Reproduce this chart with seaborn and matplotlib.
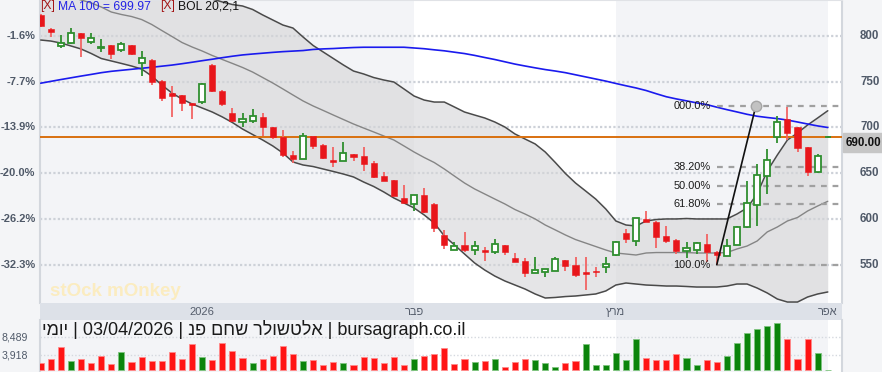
import numpy as np
import pandas as pd
import matplotlib
matplotlib.use("Agg")
import matplotlib.pyplot as plt
import matplotlib.transforms as mtrans
from matplotlib.patches import Rectangle
import seaborn as sns

sns.set_style("white")
plt.rcParams['font.family'] = ['Liberation Sans', 'DejaVu Sans']

# ---------------- data ----------------
opens = [823, 807.7, 789, 792, 803, 793, 786.6, 790, 784.7, 790,
         770, 773.8, 750.8, 737.4, 735.5, 726.4, 728.2, 768.3, 740.2, 715.5,
         706.3, 707.4, 711.8, 700.2, 690, 670, 665.9, 690.7, 680.9, 664.6,
         663.4, 671, 668.8, 661.5, 647, 642.6, 623.3, 616, 626.2, 616.4,
         582.5, 566.1, 571.5, 566.1, 566.1, 563.6, 571.5, 557, 554.2, 541.3,
         542.4, 543.1, 555.1, 549.7, 542.4, 543.1, 547.8, 560.6, 585, 576.2,
         599.6, 597, 581.7, 577, 564.9, 566.1, 572.7, 564.3, 559.9, 571.5,
         591.5, 615.3, 646.9, 689.3, 709.3, 700.2, 678.3, 651, 689.2]
highs = [824, 808.5, 801, 808.4, 803.5, 803, 796.4, 790.5, 793.8, 790.5,
         783.6, 775, 751.5, 745.3, 736, 727, 749, 769, 741, 721,
         715.5, 719.9, 715.5, 701, 697.2, 674.6, 693.6, 691, 681.5, 679,
         683.8, 671.5, 679, 663.4, 651.7, 643, 637.1, 626.5, 633.5, 617,
         587.9, 575.2, 585.4, 576, 569.7, 577.9, 572, 562.5, 557, 558.7,
         545.3, 558.7, 555.5, 558.7, 558.7, 547.8, 558.7, 576, 588.6, 601,
         608.7, 597.5, 592.6, 578, 574.5, 574.5, 583.2, 565, 578, 592.6,
         641.5, 660.1, 676.5, 712.6, 722.7, 700.8, 679, 671, 690.5]
lows = [810, 798.6, 786.5, 791, 776.7, 791, 782.8, 774.5, 782.8, 779.5,
        756.3, 746.4, 729, 711.1, 718.4, 709, 726, 739, 724, 706.5,
        700, 705, 690.7, 687.8, 667.4, 661.5, 665.5, 676.5, 665.5, 657,
        663, 663.7, 652.8, 645, 641.5, 625, 617.5, 609, 607, 586.1,
        567.2, 565.8, 564, 560.6, 554, 561.4, 560.6, 553, 536.9, 540.6,
        536.9, 543, 543.5, 536.9, 522.4, 536.9, 541.3, 559.5, 574, 570.8,
        596.5, 568.6, 573.3, 561.4, 557.7, 561.4, 553.3, 550, 559.5, 571,
        590.5, 592.6, 627, 682.7, 686.3, 673.5, 647.3, 650.5, 688.8]
closes = [811, 804, 792.7, 803.6, 798, 797.5, 788.3, 780, 791, 780,
          775.6, 750, 731.9, 734.7, 726.4, 724.6, 747.2, 739.9, 725.7, 707.4,
          709, 712.6, 700.2, 689.3, 670, 665.9, 691, 680.1, 666.3, 662.6,
          671.8, 668, 659.8, 646.2, 641.8, 625.4, 617.8, 626.2, 607.3, 589.8,
          571.5, 570.8, 566.1, 570.8, 564.2, 572.3, 564.2, 553.3, 541.3, 544.2,
          545.3, 555.9, 548.9, 538.8, 539.5, 542, 550.4, 575.2, 577.8, 600.7,
          597, 580.6, 575.8, 565.3, 567.9, 573.4, 564.3, 560.6, 570.8, 591.5,
          617, 648.1, 664.5, 706.3, 693.6, 677.9, 651, 668.8, 690]
volumes = [1782, 2892, 6068, 2453, 2892, 1937, 3744, 1523, 4777, 2195,
           3486, 2453, 2453, 4777, 2892, 6842, 3408, 2634, 7101, 5035,
           3228, 1937, 2892, 3744, 6326, 4105, 2453, 2634, 1343, 2195,
           1937, 1343, 3331, 3228, 1937, 3331, 1343, 2892, 3744, 4105,
           5810, 1523, 2892, 2195, 2453, 2892, 904, 2195, 2892, 2634,
           1937, 904, 1782, 2453, 6687, 1343, 1343, 4519, 2634, 8056,
           3228, 2634, 2634, 4183, 3228, 1343, 2634, 2195, 3744, 7101,
           9683, 10638, 11490, 12265, 8056, 2892, 8056, 4364, 120]
vol_up = [0, 0, 0, 1, 0, 0, 0, 0, 1, 0,
          0, 0, 0, 0, 0, 0, 1, 0, 0, 0,
          0, 1, 0, 0, 0, 0, 1, 0, 0, 0,
          1, 0, 0, 0, 0, 0, 0, 1, 0, 0,
          0, 0, 0, 1, 0, 1, 0, 0, 0, 1,
          1, 1, 0, 0, 1, 1, 1, 1, 1, 1,
          0, 0, 0, 0, 1, 1, 0, 0, 1, 1,
          1, 1, 1, 1, 0, 0, 0, 1, 1]
ma100 = [748.4, 750.4, 752.4, 754.3, 756.2, 758.0, 759.9, 761.4, 762.5, 763.6,
         764.7, 765.8, 767.0, 768.2, 769.7, 771.3, 773.0, 774.6, 776.3, 777.9,
         779.3, 780.3, 781.2, 782.1, 782.9, 783.5, 784.1, 785.3, 785.9, 786.3,
         786.9, 787.4, 787.7, 787.7, 787.7, 787.7, 787.7, 786.9, 786.1, 784.9,
         783.8, 782.3, 780.8, 778.8, 776.5, 774.3, 771.8, 769.3, 767.2, 765.2,
         763.3, 761.7, 759.9, 757.6, 755.3, 753.0, 750.7, 748.1, 745.6, 743.2,
         740.4, 736.9, 733.6, 731.2, 729.1, 726.9, 725.0, 722.2, 719.5, 717.0,
         714.4, 712.3, 710.9, 709.7, 708.1, 706.0, 703.8, 701.7, 699.97]
bol_upper = [909.3, 903.8, 899.5, 896.2, 892.9, 891.3, 888.0, 879.8, 877.1, 875.4,
             872.1, 868.9, 865.6, 861.2, 854.6, 850.3, 845.9, 840.4, 837.2, 834.4,
             832.8, 829.0, 823.0, 817.5, 812.0, 808.7, 798.9, 789.6, 782.5, 775.4,
             768.3, 761.7, 758.5, 754.6, 751.9, 749.7, 742.1, 734.4, 730.0, 727.8,
             727.8, 722.4, 716.9, 713.6, 710.4, 706.0, 700.5, 692.9, 687.4, 682.0,
             673.2, 661.7, 649.7, 639.3, 630.6, 621.8, 610.9, 597.8, 593.4, 592.3,
             597.8, 599.4, 600.0, 600.0, 600.5, 600.0, 600.0, 600.0, 600.0, 605.4,
             612.0, 627.3, 652.4, 669.9, 686.3, 694.0, 702.7, 710.4, 718.3]
bol_mid = [852.5, 849.2, 845.9, 842.6, 839.4, 836.1, 831.7, 826.2, 823.5, 821.3,
           818.0, 812.6, 806.0, 799.5, 792.9, 788.0, 783.6, 778.7, 774.3, 770.0,
           765.6, 760.6, 754.6, 748.6, 742.1, 735.5, 729.0, 723.5, 718.6, 713.6,
           708.7, 703.8, 699.4, 695.1, 690.7, 686.3, 679.8, 673.2, 667.2, 661.7,
           654.6, 646.9, 639.3, 632.8, 627.3, 621.8, 616.4, 610.3, 605.4, 600.0,
           593.4, 588.0, 582.5, 577.5, 573.7, 569.9, 566.1, 562.8, 561.7, 560.6,
           562.8, 563.3, 563.3, 563.3, 563.3, 562.8, 562.8, 562.8, 563.3, 567.2,
           570.4, 575.9, 585.8, 591.2, 597.8, 601.6, 608.7, 614.2, 619.3]
bol_lower = [795.6, 794.5, 792.3, 789.1, 785.8, 780.9, 775.4, 772.7, 770.0, 767.2,
             763.9, 756.3, 746.4, 737.7, 731.1, 725.7, 721.3, 716.9, 711.5, 705.4,
             698.3, 692.3, 686.3, 679.8, 672.1, 662.3, 659.0, 657.3, 654.6, 651.9,
             649.1, 645.9, 640.4, 635.5, 629.5, 622.9, 617.5, 612.0, 604.4, 595.6,
             581.4, 571.6, 561.7, 551.9, 544.2, 537.6, 532.2, 527.8, 523.4, 518.0,
             513.6, 514.2, 515.2, 515.8, 516.9, 518.0, 521.3, 527.8, 530.0, 528.9,
             527.8, 527.3, 526.7, 526.7, 526.2, 525.6, 525.6, 525.6, 526.7, 528.9,
             528.9, 524.5, 519.1, 512.5, 509.2, 509.2, 514.7, 518.0, 520.2]

price_ticks = [800, 750, 700, 650, 600, 550]
pct_labels = ["-1.6%", "-7.7%", "-13.9%", "-20.0%", "-26.2%", "-32.3%"]
vol_ticks = [8489, 3918]
vol_tick_labels = ["8,489", "3,918"]
month_idx = [16, 37, 57, 78]
month_labels = ["2026", "רבפ", "ץרמ", "רפא"]   # visual order for RTL words
shaded_months = [(None, 37), (57, 78)]
last_price = 690.0
fib_start = (67, 550.0)
fib_end = (70.86, 723.0)
fib_ratios = [0.0, 0.382, 0.5, 0.618, 1.0]
fib_labels = ["000.0%", "38.20%", "50.00%", "61.80%", "100.0%"]
title_text = "ימוי | 03/04/2026 | נפ םחש רלושטלא | bursagraph.co.il"

# ---------------- figure ----------------
W, H = 882, 372
fig = plt.figure(figsize=(W / 100, H / 100), dpi=100, facecolor='#f4f5f7')


def px_axes(x0, y0, x1, y1):
    return fig.add_axes([x0 / W, 1 - y1 / H, (x1 - x0) / W, (y1 - y0) / H])


ax = px_axes(40, 0, 842, 303)
axb = px_axes(40, 303, 842, 320)
axv = px_axes(40, 320, 842, 372)

n = len(closes)
x = np.arange(n)
o = np.array(opens); h = np.array(highs); l = np.array(lows); c = np.array(closes)
XL = (-0.07, 79.41)

# volume bars first (so only bar patches get custom edges)
dfv = pd.DataFrame({'i': x, 'vol': volumes,
                    'dir': np.where(np.array(vol_up) == 1, 'up', 'down')})
sns.barplot(data=dfv, x='i', y='vol', hue='dir', palette={'up': '#0b840b', 'down': '#ff1414'},
            native_scale=True, dodge=False, width=0.6, errorbar=None, legend=False,
            saturation=1, ax=axv, zorder=3)
for pt in list(axv.patches):
    fc = pt.get_facecolor()
    pt.set_edgecolor('#ff8a8a' if fc[0] > 0.5 else '#7fc47f')
    pt.set_linewidth(0.6)

SHADE = '#f3f4f7'
for a in (ax, axv):
    a.set_facecolor('white')
    for s0, s1 in shaded_months:
        a.axvspan(XL[0] if s0 is None else s0, s1, facecolor=SHADE, edgecolor='none', lw=0, zorder=0)
    a.set_xlim(*XL)
    a.set_xticks([]); a.set_yticks([])
    a.set_xlabel(''); a.set_ylabel('')
    for sp in a.spines.values():
        sp.set_visible(False)
    a.spines['left'].set_visible(True)
    a.spines['left'].set_color('#d3d7dd'); a.spines['left'].set_linewidth(1.5)
    a.spines['right'].set_visible(True)
    a.spines['right'].set_color('#d3d7dd'); a.spines['right'].set_linewidth(1.5)
ax.spines['top'].set_visible(True)
ax.spines['top'].set_color('#e0e2e6')

ax.set_ylim(508.14, 839.35)

# grid
for p in price_ticks:
    ax.axhline(p, color='#cdd1d8', lw=1.6, ls=(0, (1, 1)), zorder=1)

# bollinger
ax.fill_between(x, bol_lower, bol_upper, color='#d5d5d7', alpha=0.6, lw=0, zorder=2)
sns.lineplot(x=x, y=bol_upper, ax=ax, color='#4a4a4a', lw=1.1, zorder=3)
sns.lineplot(x=x, y=bol_lower, ax=ax, color='#4a4a4a', lw=1.1, zorder=3)
sns.lineplot(x=x, y=bol_mid, ax=ax, color='#858585', lw=1.0, zorder=3)

# last price line
ax.axhline(last_price, color='#d9700f', lw=1.4, zorder=4)

# MA 100
sns.lineplot(x=x, y=ma100, ax=ax, color='#1a1aee', lw=1.2, zorder=4)

# fibonacci
fib_lo, fib_hi = fib_start[1], fib_end[1]
for r, lab in zip(fib_ratios, fib_labels):
    lev = fib_hi - r * (fib_hi - fib_lo)
    ax.plot([fib_start[0], XL[1]], [lev, lev], color='#a0a0a0', lw=1.6,
            ls=(0, (2.6, 2.6)), zorder=4)
    ax.annotate(lab, xy=(fib_start[0], lev), xytext=(-4.5, 0),
                textcoords='offset points', ha='right', va='center',
                fontsize=7.9, color='#1a1a1a', zorder=9)
ax.plot([fib_start[0], fib_end[0]], [fib_lo, fib_hi], color='#111111', lw=1.2, zorder=8)
ax.plot([fib_end[0]], [fib_hi], 'o', ms=7.5, mfc='#c2c2c2', mec='#a5a5a5', zorder=8)

# candles
up = c >= o
dn = ~up
ax.vlines(x[up], l[up], h[up], color='#2f8f2f', lw=1.3, zorder=5)
ax.vlines(x[dn], l[dn], h[dn], color='#f26464', lw=1.3, zorder=5)
ax.bar(x[dn], (o - c)[dn], bottom=c[dn], width=0.6, color='#e8161b',
       edgecolor='#e8161b', lw=0.4, zorder=6)
ax.bar(x[up], np.maximum((c - o)[up], 0.6), bottom=o[up], width=0.6,
       facecolor='white', edgecolor='#2f8f2f', lw=1.3, zorder=6)

# watermark
bt = mtrans.blended_transform_factory(ax.transAxes, ax.transData)
ax.text((50 - 40) / 802, 520.5, "stOck mOnkey", transform=bt,
        fontsize=13.5, fontweight='bold', color='#fbecc0', ha='left', va='center', zorder=1.5)

# axis labels (price)
for p, lab in zip(price_ticks, pct_labels):
    ax.text((35.5 - 40) / 802, p, lab, transform=bt, ha='right', va='center',
            fontsize=8.0, fontweight='bold', color='#4f5968', clip_on=False)
    ax.text((879.5 - 40) / 802, p, str(p), transform=bt, ha='right', va='center',
            fontsize=8.3, fontweight='bold', color='#4f5968', clip_on=False)

# last price box
fig.patches.append(Rectangle((843 / W, 1 - 152 / H), 42 / W, 19 / H,
                             transform=fig.transFigure, color='#c6c6c6', zorder=5))
fig.text(846 / W, 1 - 142.5 / H, f"{last_price:.2f}", ha='left', va='center',
         fontsize=8.3, fontweight='bold', color='#111111', zorder=6)

# legend texts
ly = 1 - 6.5 / H
fig.text(40.5 / W, ly, "[X]", color='#a31515', fontsize=8.7, va='center', ha='left')
fig.text(58 / W, ly, f"MA 100 = {ma100[-1]:.2f}", color='#2323e6', fontsize=8.7, va='center', ha='left')
fig.text(160.5 / W, ly, "[X]", color='#a31515', fontsize=8.7, va='center', ha='left')
fig.text(177.5 / W, ly, "BOL 20,2,1", color='#111111', fontsize=8.7, va='center', ha='left')

# x band
axb.set_facecolor('#dde1e8')
axb.set_xlim(*XL); axb.set_ylim(0, 1)
axb.set_xticks([]); axb.set_yticks([])
for sp in axb.spines.values():
    sp.set_visible(False)
for i, lab in zip(month_idx, month_labels):
    axb.text(i, 0.45, lab, ha='center', va='center', fontsize=8, color='#555d6b')

# volume axis
axv.set_xlim(*XL)
axv.set_ylim(-465, 12962)
for v in vol_ticks:
    axv.axhline(v, color='#d5d9df', lw=1.0, ls=(0, (1, 1.5)), zorder=1)
vbt = mtrans.blended_transform_factory(axv.transAxes, axv.transData)
for v, lab in zip(vol_ticks, vol_tick_labels):
    axv.text((27.5 - 40) / 802, v, lab, transform=vbt, ha='right', va='center',
             fontsize=7.6, color='#4f5968', clip_on=False)

# title
fig.text(42 / W, 1 - 329.5 / H, title_text, ha='left', va='center', fontsize=13.0,
         color='#1a1a1a', zorder=10)

fig.savefig('out.png', dpi=100, facecolor=fig.get_facecolor())
